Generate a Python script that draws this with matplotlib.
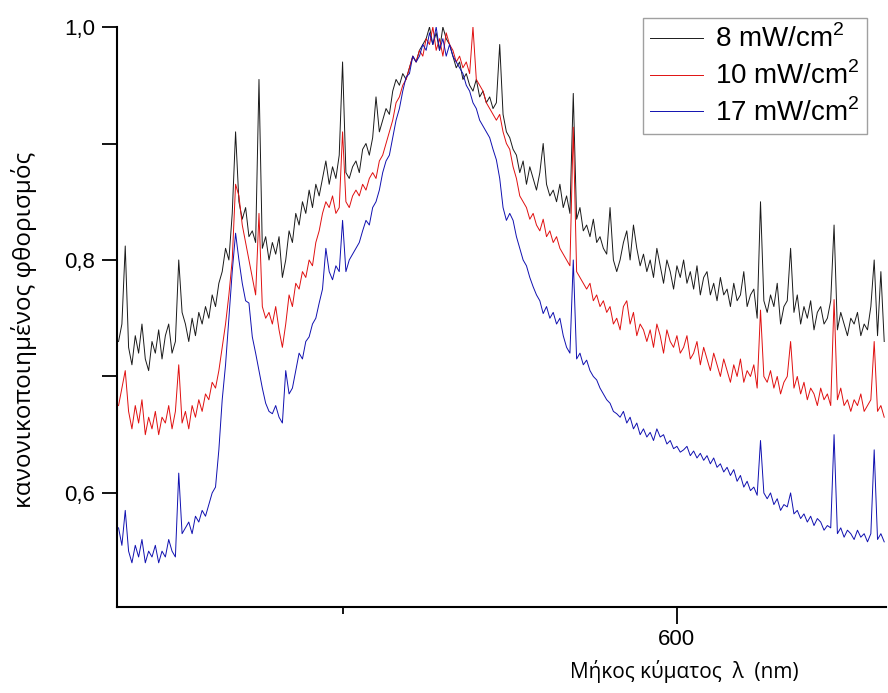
import numpy as np
import matplotlib
matplotlib.use("Agg")
import matplotlib.pyplot as plt
from matplotlib.ticker import FixedLocator, FuncFormatter

# spectra sampled every 0.5 nm, from 516.5 nm to 631.0 nm
wl_start, wl_step = 516.5, 0.5

# 8 mW/cm2
i_8 = [
    0.73, 0.745, 0.812, 0.725, 0.71, 0.735, 0.72, 0.745, 0.715, 0.705,
    0.73, 0.72, 0.74, 0.715, 0.735, 0.745, 0.72, 0.73, 0.80, 0.755,
    0.745, 0.73, 0.75, 0.735, 0.755, 0.745, 0.76, 0.75, 0.77, 0.76,
    0.78, 0.79, 0.81, 0.80, 0.84, 0.91, 0.85, 0.835, 0.845, 0.82,
    0.825, 0.815, 0.955, 0.81, 0.82, 0.80, 0.815, 0.805, 0.82, 0.785,
    0.80, 0.825, 0.815, 0.84, 0.83, 0.85, 0.84, 0.86, 0.845, 0.865,
    0.855, 0.87, 0.885, 0.865, 0.88, 0.87, 0.89, 0.97, 0.875, 0.87,
    0.88, 0.885, 0.875, 0.895, 0.90, 0.89, 0.905, 0.94, 0.91, 0.92,
    0.93, 0.925, 0.945, 0.955, 0.95, 0.96, 0.955, 0.965, 0.975, 0.97,
    0.98, 0.985, 0.99, 1.0, 0.985, 0.995, 0.98, 1.0, 0.99, 0.985,
    0.975, 0.965, 0.97, 0.955, 0.96, 0.95, 0.945, 0.955, 0.94, 0.945,
    0.935, 0.94, 0.93, 0.935, 0.985, 0.925, 0.91, 0.905, 0.895, 0.89,
    0.875, 0.885, 0.865, 0.88, 0.87, 0.86, 0.875, 0.90, 0.865, 0.855,
    0.86, 0.85, 0.865, 0.845, 0.855, 0.84, 0.943, 0.835, 0.845, 0.825,
    0.83, 0.82, 0.835, 0.815, 0.82, 0.81, 0.805, 0.845, 0.80, 0.79,
    0.80, 0.815, 0.825, 0.80, 0.83, 0.81, 0.795, 0.805, 0.79, 0.80,
    0.785, 0.81, 0.795, 0.78, 0.80, 0.79, 0.775, 0.795, 0.785, 0.80,
    0.78, 0.79, 0.775, 0.795, 0.77, 0.785, 0.79, 0.77, 0.78, 0.765,
    0.785, 0.77, 0.775, 0.76, 0.78, 0.765, 0.77, 0.79, 0.76, 0.77,
    0.775, 0.75, 0.85, 0.765, 0.755, 0.77, 0.76, 0.78, 0.745, 0.76,
    0.765, 0.81, 0.755, 0.77, 0.745, 0.76, 0.75, 0.765, 0.74, 0.755,
    0.76, 0.745, 0.75, 0.765, 0.83, 0.74, 0.755, 0.745, 0.735, 0.75,
    0.745, 0.755, 0.735, 0.745, 0.74, 0.76, 0.80, 0.735, 0.79, 0.73,
]

# 10 mW/cm2
i_10 = [
    0.675, 0.69, 0.705, 0.67, 0.655, 0.675, 0.66, 0.68, 0.65, 0.665,
    0.655, 0.67, 0.65, 0.665, 0.66, 0.675, 0.655, 0.67, 0.71, 0.66,
    0.67, 0.655, 0.675, 0.665, 0.68, 0.67, 0.685, 0.68, 0.695, 0.69,
    0.705, 0.725, 0.745, 0.77, 0.80, 0.865, 0.855, 0.83, 0.815, 0.80,
    0.785, 0.77, 0.84, 0.76, 0.75, 0.755, 0.745, 0.76, 0.74, 0.725,
    0.745, 0.77, 0.76, 0.78, 0.775, 0.79, 0.785, 0.80, 0.795, 0.815,
    0.825, 0.84, 0.85, 0.845, 0.855, 0.84, 0.845, 0.91, 0.85, 0.845,
    0.855, 0.86, 0.855, 0.865, 0.86, 0.87, 0.875, 0.87, 0.885, 0.89,
    0.90, 0.91, 0.92, 0.935, 0.94, 0.95, 0.955, 0.965, 0.975, 0.97,
    0.98, 0.975, 0.99, 0.985, 1.0, 0.98, 0.99, 0.975, 0.995, 0.985,
    0.98, 0.97, 0.975, 0.965, 0.97, 0.96, 1.0, 0.955, 0.95, 0.945,
    0.935, 0.93, 0.925, 0.92, 0.925, 0.91, 0.90, 0.895, 0.88, 0.87,
    0.855, 0.85, 0.845, 0.835, 0.84, 0.83, 0.825, 0.835, 0.82, 0.825,
    0.815, 0.82, 0.81, 0.805, 0.80, 0.795, 0.914, 0.79, 0.785, 0.78,
    0.775, 0.78, 0.765, 0.77, 0.76, 0.765, 0.755, 0.76, 0.745, 0.75,
    0.74, 0.76, 0.765, 0.745, 0.755, 0.735, 0.745, 0.74, 0.73, 0.74,
    0.725, 0.745, 0.735, 0.72, 0.74, 0.73, 0.725, 0.735, 0.72, 0.725,
    0.735, 0.715, 0.72, 0.73, 0.71, 0.725, 0.715, 0.705, 0.72, 0.71,
    0.70, 0.715, 0.705, 0.695, 0.71, 0.70, 0.715, 0.695, 0.705, 0.70,
    0.71, 0.69, 0.757, 0.70, 0.695, 0.705, 0.69, 0.70, 0.685, 0.695,
    0.70, 0.73, 0.69, 0.70, 0.685, 0.695, 0.68, 0.69, 0.685, 0.675,
    0.69, 0.68, 0.685, 0.675, 0.766, 0.68, 0.69, 0.675, 0.68, 0.67,
    0.68, 0.675, 0.685, 0.67, 0.675, 0.68, 0.73, 0.67, 0.675, 0.665,
]

# 17 mW/cm2
i_17 = [
    0.57, 0.555, 0.585, 0.55, 0.54, 0.555, 0.545, 0.56, 0.54, 0.55,
    0.545, 0.555, 0.54, 0.55, 0.545, 0.56, 0.55, 0.545, 0.617, 0.565,
    0.57, 0.575, 0.565, 0.58, 0.575, 0.585, 0.58, 0.59, 0.60, 0.605,
    0.637, 0.68, 0.71, 0.75, 0.79, 0.823, 0.80, 0.78, 0.765, 0.763,
    0.734, 0.72, 0.705, 0.69, 0.677, 0.67, 0.668, 0.675, 0.665, 0.66,
    0.705, 0.685, 0.69, 0.705, 0.72, 0.715, 0.73, 0.734, 0.745, 0.75,
    0.763, 0.775, 0.81, 0.79, 0.783, 0.795, 0.79, 0.834, 0.79, 0.80,
    0.805, 0.81, 0.815, 0.825, 0.834, 0.83, 0.845, 0.85, 0.86, 0.875,
    0.885, 0.89, 0.905, 0.92, 0.93, 0.945, 0.957, 0.96, 0.975, 0.97,
    0.975, 0.985, 0.98, 0.995, 0.985, 1.0, 0.98, 0.99, 0.975, 0.985,
    0.975, 0.97, 0.965, 0.96, 0.95, 0.945, 0.935, 0.93, 0.92, 0.915,
    0.91, 0.905, 0.895, 0.886, 0.87, 0.845, 0.834, 0.84, 0.834, 0.82,
    0.81, 0.80, 0.795, 0.785, 0.777, 0.77, 0.765, 0.754, 0.76, 0.75,
    0.755, 0.745, 0.75, 0.735, 0.725, 0.72, 0.80, 0.715, 0.72, 0.71,
    0.714, 0.705, 0.70, 0.697, 0.69, 0.685, 0.68, 0.677, 0.67, 0.668,
    0.665, 0.67, 0.66, 0.665, 0.655, 0.66, 0.65, 0.655, 0.648, 0.652,
    0.645, 0.655, 0.648, 0.65, 0.642, 0.645, 0.638, 0.64, 0.635, 0.637,
    0.64, 0.632, 0.636, 0.63, 0.634, 0.628, 0.632, 0.625, 0.63, 0.622,
    0.625, 0.618, 0.622, 0.615, 0.62, 0.61, 0.615, 0.605, 0.61, 0.602,
    0.605, 0.598, 0.645, 0.60, 0.595, 0.60, 0.59, 0.595, 0.585, 0.59,
    0.588, 0.60, 0.582, 0.585, 0.578, 0.582, 0.575, 0.58, 0.572, 0.578,
    0.575, 0.568, 0.572, 0.57, 0.65, 0.565, 0.57, 0.562, 0.568, 0.565,
    0.56, 0.568, 0.562, 0.565, 0.558, 0.565, 0.637, 0.56, 0.565, 0.558,
]

labels = [r"8 mW/cm$^{\mathrm{2}}$", r"10 mW/cm$^{\mathrm{2}}$", r"17 mW/cm$^{\mathrm{2}}$"]
colors = ["#1a1a1a", "#e01010", "#1010b0"]

plt.rcParams['font.family'] = ['Liberation Sans', 'DejaVu Sans']
plt.rcParams['mathtext.fontset'] = 'custom'
plt.rcParams['mathtext.rm'] = 'Liberation Sans'

wl = wl_start + wl_step * np.arange(len(i_8))

fig = plt.figure(figsize=(8.88, 6.93), dpi=100)
ax = fig.add_axes([0.132, 0.124, 0.866, 0.837])

for y, c, lab in zip([i_8, i_10, i_17], colors, labels):
    ax.plot(wl, y, color=c, lw=0.7, label=lab)

ax.set_xlim(516.3, 631.3)
ax.set_ylim(0.502, 1.0)

ax.spines['top'].set_visible(False)
ax.spines['right'].set_visible(False)
ax.spines['left'].set_linewidth(1.5)
ax.spines['bottom'].set_linewidth(1.5)

ax.xaxis.set_major_locator(FixedLocator([600]))
ax.xaxis.set_minor_locator(FixedLocator([550]))
ax.yaxis.set_major_locator(FixedLocator([0.6, 0.8, 1.0]))
ax.yaxis.set_minor_locator(FixedLocator([0.7, 0.9]))
ax.yaxis.set_major_formatter(FuncFormatter(lambda v, p: f"{v:.1f}".replace('.', ',')))
ax.tick_params(axis='x', which='major', direction='out', length=12, width=1.3, labelsize=16, pad=4)
ax.tick_params(axis='x', which='minor', direction='out', length=5, width=1.3)
ax.tick_params(axis='y', which='both', direction='out', length=11, width=1.3, labelsize=16, pad=5)

ax.set_xlabel("Μήκος κύματος  λ  (nm)", family=['Open Sans', 'DejaVu Sans'], fontsize=15)
ax.xaxis.set_label_coords(0.738, -0.091)
ax.set_ylabel("κανονικοποιημένος φθορισμός", family=['Open Sans', 'DejaVu Sans'], fontsize=17.5)
ax.yaxis.set_label_coords(-0.104, 0.478)

leg = ax.legend(loc='upper right', bbox_to_anchor=(0.976, 0.974), bbox_transform=fig.transFigure,
                fontsize=20, frameon=True, fancybox=False, edgecolor='#888888',
                handlelength=1.9, handletextpad=0.45, labelspacing=0.3, borderpad=0.25,
                borderaxespad=0)
leg.get_frame().set_linewidth(1.0)

fig.savefig("out.png", dpi=100)
